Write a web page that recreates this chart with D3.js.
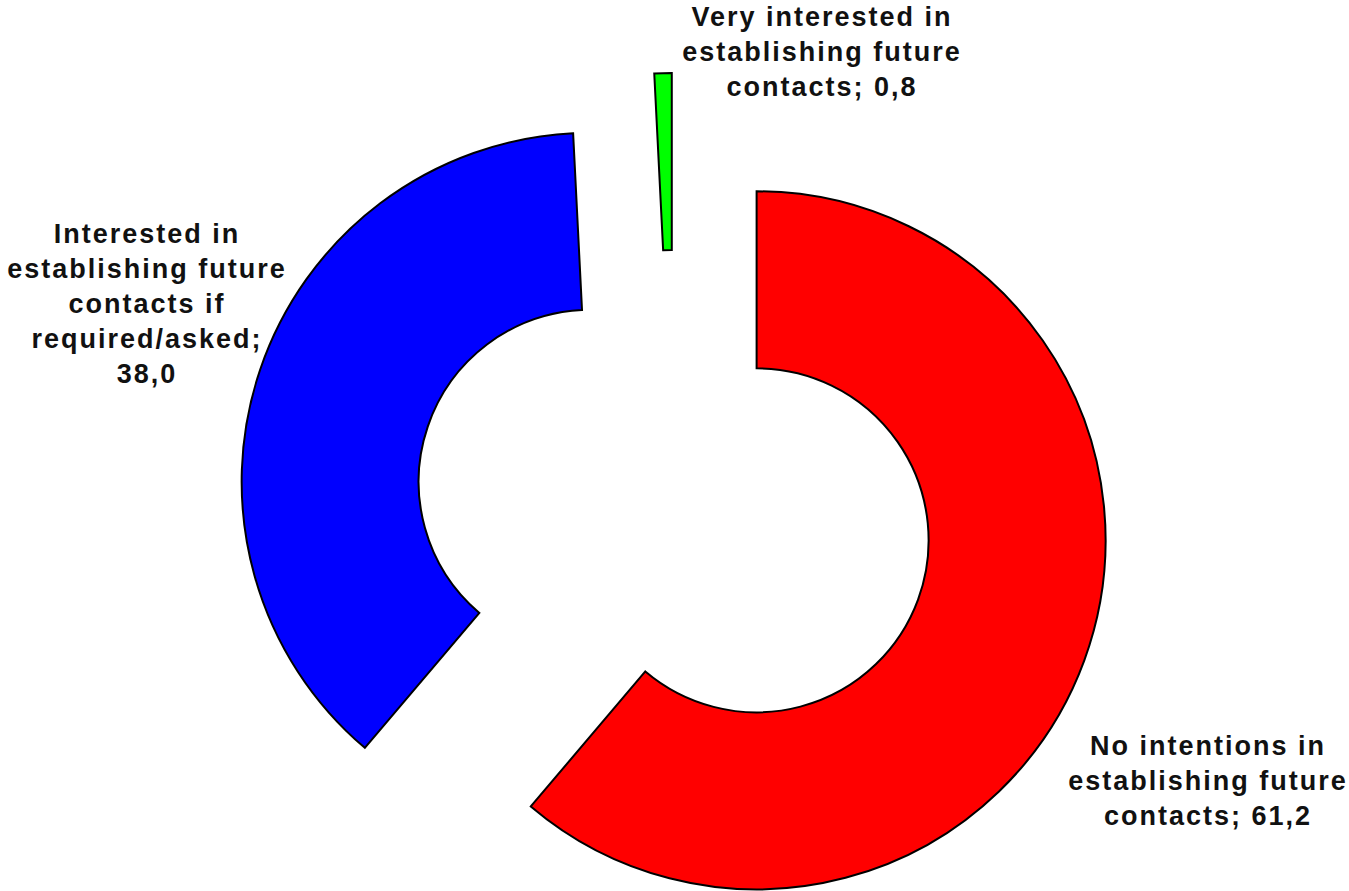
<!DOCTYPE html>
<html>
<head>
<meta charset="utf-8">
<script src="https://cdn.jsdelivr.net/npm/d3@7"></script>
<style>
  html, body { margin: 0; padding: 0; background: #ffffff; }
  svg { display: block; }
  .lbl { font-family: "Liberation Sans", Arial, sans-serif; font-weight: bold; font-size: 27px; letter-spacing: 2px; fill: #111; }
</style>
</head>
<body>
<svg id="chart" width="1349" height="891"></svg>
<script>
// Survey answers, in drawing order (clockwise from 12 o'clock)
const categories = [
  "No intentions in establishing future contacts",
  "Interested in establishing future contacts if required/asked",
  "Very interested in establishing future contacts"
];
const values = [61.2, 38.0, 0.8];
const colors = ["#ff0000", "#0000ff", "#00ff00"];

// Wrapped label text (value appended from the values array)
const labelText = [
  ["No intentions in", "establishing future", "contacts;"],
  ["Interested in", "establishing future", "contacts if", "required/asked;"],
  ["Very interested in", "establishing future", "contacts;"]
];
// Whether the value goes on its own line
const valueOnOwnLine = [false, true, false];

const fmt = v => v.toFixed(1).replace(".", ",");

// Layout
const W = 1349, H = 891;
const cx = 674, cy = 510;
const outerR = 349, innerR = 172;
const explode = 88;
const lineH = 35;
// Label block centres (x) and first baselines (y)
const labelPos = [
  { x: 1208, y: 755 },
  { x: 147, y: 243 },
  { x: 822, y: 26 }
];

const svg = d3.select("#chart");
const g = svg.append("g").attr("transform", `translate(${cx},${cy})`);

const pie = d3.pie().sort(null).value(d => d).startAngle(0).endAngle(2 * Math.PI);
const arcs = pie(values);
const arc = d3.arc().innerRadius(innerR).outerRadius(outerR);

g.selectAll("path.slice")
  .data(arcs)
  .join("path")
  .attr("class", "slice")
  .attr("d", arc)
  .attr("transform", d => {
    const m = (d.startAngle + d.endAngle) / 2;
    return `translate(${explode * Math.sin(m)},${-explode * Math.cos(m)})`;
  })
  .attr("fill", (d, i) => colors[i])
  .attr("stroke", "#000")
  .attr("stroke-width", 2)
  .attr("stroke-linejoin", "miter");

// Data labels
values.forEach((v, i) => {
  const lines = labelText[i].slice();
  if (valueOnOwnLine[i]) lines.push(fmt(v));
  else lines[lines.length - 1] = lines[lines.length - 1] + " " + fmt(v);
  const t = svg.append("text")
    .attr("class", "lbl")
    .attr("text-anchor", "middle")
    .attr("x", labelPos[i].x)
    .attr("y", labelPos[i].y);
  lines.forEach((ln, k) => {
    t.append("tspan")
      .attr("x", labelPos[i].x)
      .attr("y", labelPos[i].y + k * lineH)
      .text(ln);
  });
});
</script>
</body>
</html>
